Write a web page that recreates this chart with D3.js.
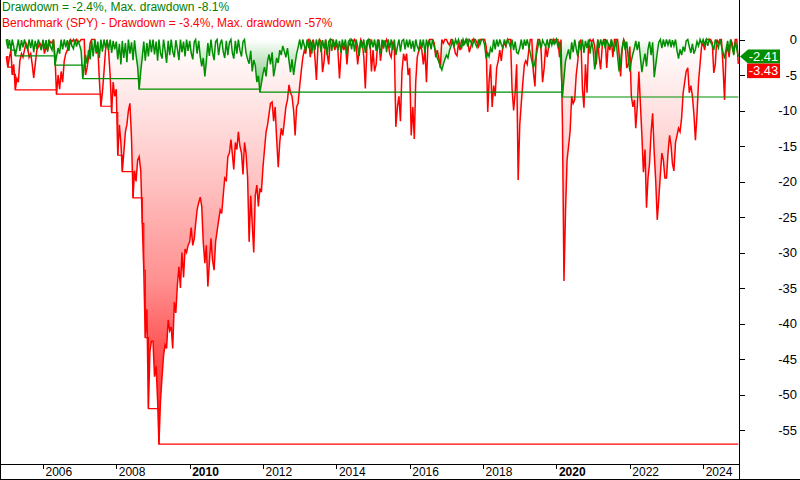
<!DOCTYPE html>
<html>
<head>
<meta charset="utf-8">
<script src="https://cdn.jsdelivr.net/npm/d3@7"></script>
<style>
body { margin: 0; background: #fff; }
svg { display: block; font-family: Arial, "Liberation Sans", sans-serif; }
</style>
</head>
<body>
<div id="chart"></div>
<script>
// Drawdown in %, two readings a month (1st and 16th), Jan 2005 .. Dec 2024
const firstYear = 2005;

const spyDrawdown = [
  -2.4, -3.9, -2.5, -1.5, -4.9, -3.5, -7.1, -5.5, -6.0, -3.0, -2.0, -2.5, -1.5, -0.5, -1.0, -2.5, -2.0, -3.5, -5.4, -3.5, -1.5, -1.0, -0.5, -1.0,
  -0.5, -2.0, -1.0, -1.5, -0.8, -0.3, -0.5, 0, -2.5, -7.7, -5.0, -7.0, -4.5, -6.0, -3.0, -2.0, -1.5, -0.5, 0, -0.3, 0, -0.5, 0, -0.3,
  -0.3, 0, 0, 0, -5.0, -4.0, -2.5, -0.5, 0, 0, 0, -2.0, -1.0, -5.5, -9.4, -7.5, -4.5, -1.5, 0, -1.5, -5.0, -10.3, -6.0, -8.0,
  -7.0, -16.3, -12.0, -14.5, -18.6, -16.0, -13.0, -12.0, -10.0, -9.0, -14.0, -22.3, -18.5, -20.0, -17.0, -16.5, -18.5, -25.9, -32.5, -42.0, -38.0, -52.0, -44.0, -42.5,
  -42.5, -47.5, -46.0, -51.0, -57.0, -51.0, -47.5, -44.5, -43.0, -43.5, -39.5, -41.0, -40.5, -43.5, -37.0, -38.5, -34.5, -32.0, -35.0, -30.0, -33.5, -29.5, -30.0, -29.0,
  -28.5, -26.5, -29.0, -28.0, -26.0, -24.0, -23.0, -22.2, -23.5, -28.5, -31.5, -29.0, -34.8, -31.5, -28.0, -31.0, -32.5, -28.5, -27.0, -25.5, -24.0, -24.5, -22.0, -19.5,
  -19.8, -16.5, -16.0, -14.1, -16.0, -18.3, -14.5, -15.5, -13.0, -15.0, -16.0, -19.0, -14.5, -16.0, -19.5, -28.5, -22.0, -26.0, -30.0, -22.0, -20.5, -23.5, -21.0, -21.5,
  -18.0, -15.5, -13.0, -12.0, -10.5, -9.0, -8.8, -11.5, -9.5, -14.0, -18.0, -14.5, -12.5, -13.5, -11.5, -9.5, -8.5, -6.4, -7.5, -8.0, -10.0, -13.5, -9.5, -9.0,
  -6.5, -4.5, -2.5, -1.5, -2.0, -0.3, 0, -2.5, -0.5, 0, -2.5, -5.7, -1.0, 0, -0.3, -4.6, -3.0, 0, -2.0, -3.5, 0, 0, -0.5, -1.5,
  -0.5, -1.5, -5.5, -2.0, -0.5, -1.5, -0.5, -3.5, -1.0, -0.5, 0, -0.3, 0, -0.8, -3.5, -1.5, 0, -0.5, -2.5, -6.9, -1.0, 0, 0, -4.5,
  -1.5, -4.5, -3.5, -0.5, 0, -3.0, -1.0, -0.3, -0.8, 0, -0.5, -2.0, -2.5, -0.5, -1.0, -12.3, -9.5, -8.0, -11.5, -4.5, -2.0, -3.0, -2.0, -5.0,
  -4.0, -13.5, -9.5, -14.0, -6.0, -2.5, -1.5, -1.0, -1.5, -3.5, -1.5, -6.0, -0.5, 0, 0, 0, -0.5, -2.5, -1.5, -2.5, -4.0, 0, -0.5, 0,
  0, -0.5, -0.8, 0, 0, -1.0, -2.0, -2.3, -0.5, -1.5, 0, -0.8, -0.5, 0, 0, -1.8, -1.0, 0, 0, 0, -0.5, -1.0, 0, 0,
  0, 0, -1.0, -10.2, -6.0, -3.5, -9.5, -6.5, -8.0, -4.0, -3.0, -1.5, -3.0, -1.0, -0.5, -1.0, 0, 0, 0, -6.9, -10.0, -7.5, -3.5, -19.8,
  -12.0, -9.0, -6.0, -3.5, -3.0, -3.5, -1.5, 0, 0, -4.5, -6.6, -1.5, 0, 0, -1.5, -6.0, -4.0, -1.0, -2.5, -1.0, 0, 0, -0.5, 0,
  0, 0, -2.5, 0, -12.0, -34.0, -24.0, -17.0, -15.0, -13.0, -8.0, -9.0, -8.5, -5.0, -3.0, -0.5, 0, -7.0, -9.6, -3.5, -7.5, -0.5, 0, -0.3,
  0, -1.0, -3.5, 0, -2.5, -4.2, -1.0, 0, 0, -4.0, -0.5, -1.5, 0, -2.5, 0, 0, 0, -2.0, -5.2, -1.5, 0, -0.5, -4.0, -3.5,
  -1.0, -8.0, -9.5, -8.5, -12.5, -9.5, -4.5, -9.0, -13.5, -18.7, -15.5, -23.7, -19.5, -17.5, -13.0, -10.4, -16.0, -20.0, -25.4, -22.5, -19.0, -16.0, -17.0, -19.5,
  -19.5, -16.0, -13.5, -15.0, -17.5, -18.5, -14.5, -13.5, -12.5, -13.0, -11.0, -7.5, -6.0, -4.5, -4.0, -7.5, -6.5, -8.0, -10.5, -14.2, -10.5, -6.0, -3.5, -1.0,
  -0.5, -1.5, 0, 0, 0, 0, -0.5, -4.7, -3.5, 0, -0.5, 0, 0, -3.5, -8.5, -2.0, -1.0, -2.5, 0, -0.5, -2.0, 0, 0, -3.43
];

const stratDrawdown = [
  0, -1.2, -0.1, -1.5, 0, -1.0, -2.3, -1.2, 0, -1.6, -0.1, -1.1, 0, -0.9, -1.4, 0, -1.2, 0, -1.8, -0.2, -1.3, 0, -0.9, -1.5,
  0, -1.3, -0.1, -1.7, 0, -1.0, -1.5, 0, -3.6, -2.4, -1.2, -2.0, 0, -1.4, 0, -1.1, -0.1, -1.6, 0, -0.9, -1.3, 0, -1.0, -0.2,
  -0.8, -1.6, -5.5, -3.8, -2.2, -3.4, -1.5, -2.8, -0.2, -2.4, 0, -1.8, -0.3, -2.6, 0, -1.7, 0, -1.2, -0.1, -1.5, 0, -1.9, -0.2, -1.4,
  -0.3, -2.8, -0.6, -3.5, -0.2, -2.6, -0.5, -3.2, 0, -2.0, -0.4, -2.9, -0.1, -2.2, -3.9, -7.0, -4.5, -2.5, -0.3, -3.0, -0.5, -2.4, 0, -1.8,
  0, -2.1, -0.3, -3.0, 0, -1.9, -2.7, 0, -1.5, -3.3, -0.2, -2.2, 0, -1.7, -2.5, -0.1, -1.4, -2.9, 0, -1.8, -0.3, -2.4, 0, -1.6,
  -0.2, -1.9, -2.8, -0.3, 0, -2.0, -0.2, -2.4, -3.8, -2.6, -5.2, -3.1, -0.5, -2.3, 0, -1.8, -2.9, -0.3, 0, -2.2, -0.6, 0, -1.7, -2.6,
  -0.2, -2.2, -0.4, 0, -1.8, -2.7, -0.2, -2.0, 0, -1.5, -2.4, -0.3, 0, -1.9, -2.8, -3.4, -1.6, -4.5, -2.9, -3.6, -6.0, -5.1, -7.4, -6.2,
  -4.8, -3.9, -5.2, -3.0, -2.1, -3.5, -1.8, -5.2, -4.0, -2.6, -3.3, -1.5, -2.2, -0.9, -1.7, -2.5, -1.2, -3.0, -4.6, -2.8, -5.0, -3.4, -2.0, -1.1,
  0, -1.4, 0, -0.9, -1.7, 0, -1.2, 0, -2.0, -0.2, -1.5, 0, -1.1, 0, -1.8, -0.1, -1.3, 0, -2.2, -0.3, 0, -1.6, 0, -1.0,
  0, -1.5, -0.2, -1.9, 0, -1.1, 0, -2.1, -0.3, 0, -1.4, 0, -1.7, 0, -1.0, -2.3, -0.1, -1.2, 0, -1.9, -0.2, 0, -1.3, 0,
  -1.1, 0, -1.6, 0, -1.0, -2.0, 0, -1.3, -0.1, -1.8, 0, -1.2, 0, -1.5, 0, -2.2, -1.0, 0, -1.7, -0.2, 0, -1.4, 0, -1.1,
  0, -1.3, -0.2, -1.7, 0, -1.0, -1.5, 0, -1.2, 0, -1.9, 0, -1.1, -0.1, -1.4, 0, -1.0, -1.8, -2.6, -3.1, -3.8, -4.3, -3.5, -2.8,
  -2.2, -2.6, -1.5, -0.9, 0, -1.1, 0, -0.6, 0, -0.8, -1.2, 0, -0.6, 0, -1.0, 0, -0.3, -0.9, 0, -0.6, -1.1, 0, -0.7, 0,
  0, -0.8, -2.7, -1.9, -2.4, -1.2, -1.8, 0, -1.4, 0, -1.0, 0, -0.7, -1.2, 0, -0.8, 0, -0.5, -1.1, 0, -1.5, -0.3, -1.8, -2.0,
  -1.2, 0, -1.4, 0, -0.9, 0, -1.1, -1.9, -3.0, -4.0, -3.2, -2.1, -1.0, 0, -1.3, -0.1, -0.6, -1.0, 0, -1.2, 0, -0.8, 0, -0.6,
  0, -1.0, -0.3, -4.0, -8.1, -5.5, -3.0, -2.2, -1.4, -2.8, -0.4, -1.8, 0, -1.3, -2.4, -0.2, -1.5, 0, -1.9, -0.2, -1.2, 0, -2.0, -0.3,
  -1.5, -4.2, -2.8, 0, -1.2, 0, -0.9, 0, -1.3, 0, -0.7, -1.1, 0, -0.8, -1.4, 0, -2.4, -4.5, -3.1, -1.2, 0, -1.5, -0.3, -2.6,
  -4.5, -3.0, -2.0, -1.2, -0.2, -1.5, -0.3, -2.5, -4.6, -3.2, -2.0, -3.8, -1.4, -0.3, -2.2, -0.4, -5.3, -3.6, -1.9, -0.4, 0, -1.2, 0, -1.0,
  0, -0.8, 0, -1.1, -0.1, -0.9, 0, -1.6, -2.7, -1.4, -2.2, -1.0, -1.7, -0.2, 0, -1.0, -1.9, -0.6, -2.0, -1.4, -0.3, -0.9, 0, -0.6,
  0, -0.7, 0, -0.9, 0, -0.4, -0.8, -1.5, 0, -0.6, -1.2, 0, -0.9, -1.8, -2.7, -1.4, -0.2, -1.9, 0, -1.1, -2.2, -0.3, -1.3, -2.41
];

const yTicks = [0, -5, -10, -15, -20, -25, -30, -35, -40, -45, -50, -55];
const yearTicks = [2006, 2008, 2010, 2012, 2014, 2016, 2018, 2020, 2022, 2024];
const boldYears = [2010, 2020];

const width = 800;
const height = 480;
const plotRight = 739.5;
const axisY = 464.5;

const green = "#008f00";
const red = "#ff0000";

const svg = d3.select("#chart")
    .append("svg")
    .attr("width", width)
    .attr("height", height);

// dates of the readings
const dates = spyDrawdown.map((_, i) =>
    new Date(firstYear + Math.floor(i / 24), Math.floor((i % 24) / 2), i % 2 ? 16 : 1));

const x = d3.scaleTime()
    .domain([new Date(2005, 0, 1), new Date(2025, 0, 1)])
    .range([6.3, 739.9]);

const y = d3.scaleLinear()
    .domain([0, -57])
    .range([39.5, 444.2]);

// running worst drawdown
function runningMin(values) {
    let m = 0;
    return values.map(v => (m = Math.min(m, v)));
}
const spyMax = runningMin(spyDrawdown);
const stratMax = runningMin(stratDrawdown);

// gradients
const defs = svg.append("defs");
const redGrad = defs.append("linearGradient")
    .attr("id", "redFill")
    .attr("gradientUnits", "userSpaceOnUse")
    .attr("x1", 0).attr("x2", 0)
    .attr("y1", y(0)).attr("y2", y(d3.min(spyDrawdown)));
[[0, "#ffffff"], [0.175, "#ffe2e2"], [0.35, "#ffc2c2"], [0.6, "#ff9090"], [0.75, "#ff5a5a"], [1, "#ff2424"]]
    .forEach(s => redGrad.append("stop").attr("offset", s[0]).attr("stop-color", s[1]));

const greenGrad = defs.append("linearGradient")
    .attr("id", "greenFill")
    .attr("gradientUnits", "userSpaceOnUse")
    .attr("x1", 0).attr("x2", 0)
    .attr("y1", y(0)).attr("y2", y(d3.min(stratDrawdown)));
greenGrad.append("stop").attr("offset", 0).attr("stop-color", "#ffffff");
greenGrad.append("stop").attr("offset", 1).attr("stop-color", "#5cb85c");

const area = d3.area()
    .x((d, i) => x(dates[i]))
    .y0(y(0))
    .y1(d => y(d));

const line = d3.line()
    .x((d, i) => x(dates[i]))
    .y(d => y(d));

const stepLine = d3.line()
    .x((d, i) => x(dates[i]))
    .y(d => y(d))
    .curve(d3.curveStepAfter);

// fills
svg.append("path").attr("d", area(spyDrawdown)).attr("fill", "url(#redFill)");
svg.append("path").attr("d", area(stratDrawdown)).attr("fill", "url(#greenFill)");

// benchmark
svg.append("path")
    .attr("d", line(spyDrawdown))
    .attr("fill", "none")
    .attr("stroke", red)
    .attr("stroke-width", 1.5);
svg.append("path")
    .attr("d", stepLine(spyMax))
    .attr("fill", "none")
    .attr("stroke", red)
    .attr("stroke-width", 1.2);

// strategy
svg.append("path")
    .attr("d", line(stratDrawdown))
    .attr("fill", "none")
    .attr("stroke", green)
    .attr("stroke-width", 1.5);
svg.append("path")
    .attr("d", stepLine(stratMax))
    .attr("fill", "none")
    .attr("stroke", green)
    .attr("stroke-width", 1.2);

// y axis on the right
const yAxis = svg.append("g")
    .attr("transform", `translate(${plotRight},0)`)
    .call(d3.axisRight(y).tickValues(yTicks).tickSize(5).tickFormat(d => String(d)));
yAxis.select(".domain").remove();
yAxis.selectAll("line").attr("stroke", "#000").attr("shape-rendering", "crispEdges");
yAxis.selectAll("text")
    .attr("x", 57.5)
    .attr("text-anchor", "end")
    .attr("fill", "#000")
    .style("font-size", "13px");

// x axis
const xAxis = svg.append("g")
    .attr("transform", `translate(0,${axisY})`)
    .call(d3.axisBottom(x)
        .tickValues(yearTicks.map(yr => new Date(yr, 0, 1)))
        .tickSize(4)
        .tickFormat(d3.timeFormat("%Y")));
xAxis.select(".domain").remove();
xAxis.selectAll("line").attr("stroke", "#000").attr("shape-rendering", "crispEdges");
xAxis.selectAll("text")
    .attr("x", 2)
    .attr("y", 11.5)
    .attr("dy", null)
    .attr("text-anchor", "start")
    .attr("fill", "#000")
    .style("font-size", "12px")
    .style("font-weight", d => boldYears.includes(d.getFullYear()) ? "bold" : "normal");

// frame lines
const frame = svg.append("g").attr("stroke", "#000").attr("shape-rendering", "crispEdges");
frame.append("line").attr("x1", plotRight).attr("x2", plotRight).attr("y1", 0).attr("y2", height);
frame.append("line").attr("x1", 0).attr("x2", plotRight).attr("y1", axisY).attr("y2", axisY);
frame.append("line").attr("x1", 0.5).attr("x2", 0.5).attr("y1", 0).attr("y2", height);
frame.append("line").attr("x1", 0).attr("x2", width).attr("y1", height - 0.5).attr("y2", height - 0.5);

// last value tags
const lastStrat = stratDrawdown[stratDrawdown.length - 1];
const lastSpy = spyDrawdown[spyDrawdown.length - 1];
const gy = y(lastStrat);
svg.append("path")
    .attr("d", `M${plotRight + 0.5},${gy} L${plotRight + 8.5},${gy - 7} H780 V${gy + 7} H${plotRight + 8.5} Z`)
    .attr("fill", green);
svg.append("text")
    .attr("x", 763.5).attr("y", gy + 4.5)
    .attr("text-anchor", "middle")
    .attr("fill", "#fff")
    .style("font-size", "13px")
    .text(lastStrat.toFixed(2));
const ry = Math.max(y(lastSpy) - 7, gy + 7);
svg.append("rect")
    .attr("x", 747).attr("y", ry)
    .attr("width", 33).attr("height", 14.5)
    .attr("fill", red);
svg.append("text")
    .attr("x", 763.5).attr("y", ry + 11.5)
    .attr("text-anchor", "middle")
    .attr("fill", "#fff")
    .style("font-size", "13px")
    .text(lastSpy.toFixed(2));

// legend
const pct = v => v.toPrecision(2);
svg.append("text")
    .attr("x", 2).attr("y", 11)
    .attr("fill", "#008000")
    .style("font-size", "12px")
    .text(`Drawdown = ${pct(lastStrat)}%, Max. drawdown ${pct(d3.min(stratDrawdown))}%`);
svg.append("text")
    .attr("x", 2).attr("y", 26.5)
    .attr("fill", red)
    .style("font-size", "12px")
    .text(`Benchmark (SPY) - Drawdown = ${pct(lastSpy)}%, Max. drawdown ${pct(d3.min(spyDrawdown))}%`);
</script>
</body>
</html>
